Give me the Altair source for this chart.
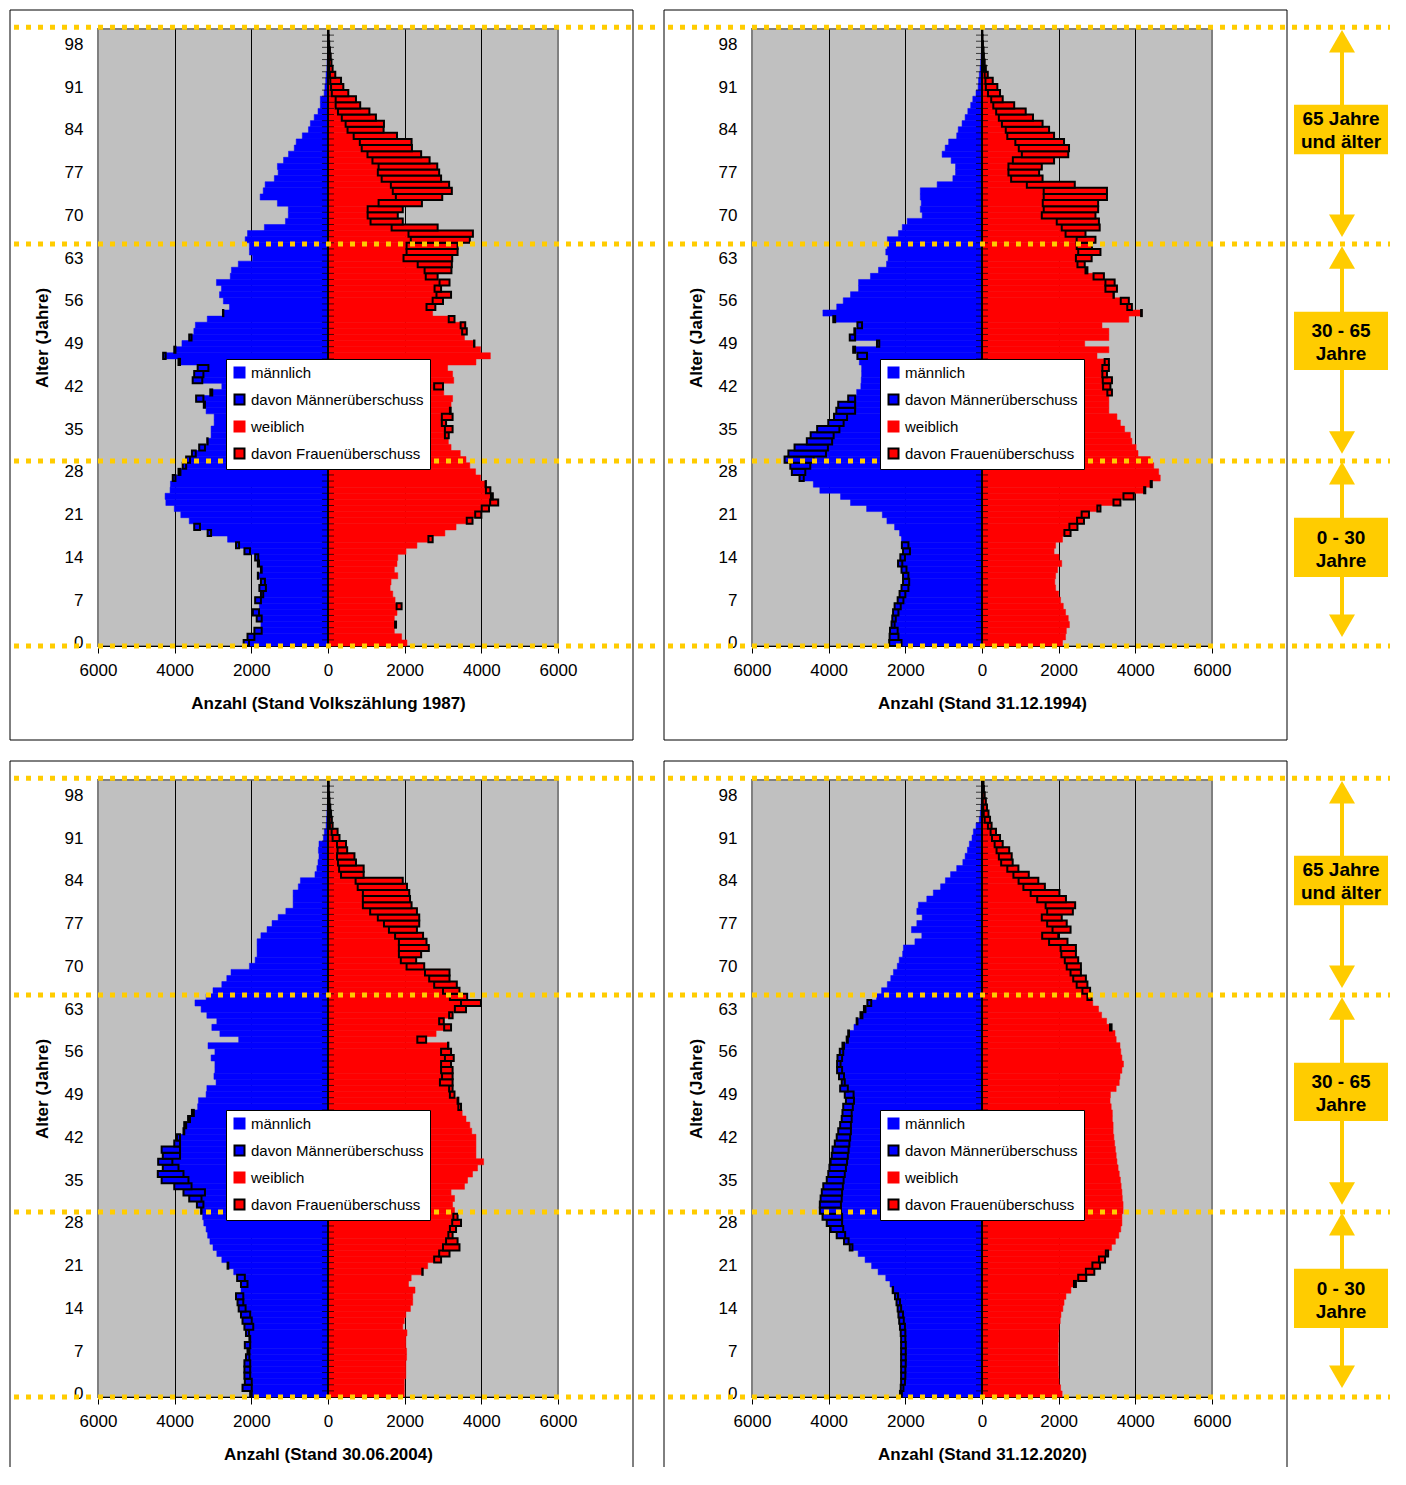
import altair as alt
import pandas as pd

AGES = list(range(101))

M_1987 = [2200, 2100, 1920, 1750, 1860, 1960, 1790, 1900, 1750, 1790,
          1750, 1830, 1750, 1830, 1900, 2180, 2400, 2620, 3140, 3490,
          3620, 3840, 4010, 4230, 4250, 4120, 4110, 4050, 3900, 3790,
          3700, 3550, 3360, 3150, 3050, 3050, 2970, 2970, 3180, 3240,
          3440, 3070, 2770, 3530, 3490, 3400, 3900, 4300, 4010, 3810,
          3620, 3500, 3460, 3150, 2740, 2570, 2730, 2830, 2780, 2910,
          2550, 2520, 2340, 1970, 2050, 2050, 2160, 2100, 1660, 1110,
          1035, 1035, 1320, 1770, 1690, 1640, 1400, 1300, 1320, 1160,
          1030, 880, 830, 670, 510, 460, 360, 260, 200, 200,
          100, 80, 60, 50, 30, 25, 15, 10, 8, 5,
          3]
F_1987 = [2060, 1920, 1730, 1775, 1730, 1800, 1920, 1750, 1690, 1620,
          1645, 1820, 1730, 1800, 1820, 2035, 2320, 2730, 3050, 3340,
          3770, 4000, 4200, 4440, 4300, 4235, 4120, 3980, 3850, 3700,
          3600, 3450, 3210, 3140, 3150, 3250, 3080, 3250, 3200, 3210,
          3250, 3020, 3000, 3280, 3250, 3120, 3860, 4235, 3980, 3820,
          3560, 3620, 3580, 3300, 2730, 2800, 3000, 3210, 2950, 3170,
          2860, 3220, 3230, 3240, 3380, 3380, 3700, 3780, 2860, 1950,
          1820, 1950, 2450, 2980, 3230, 3160, 2950, 2900, 2850, 2650,
          2430, 2190, 2180, 1800, 1450, 1460, 1250, 1080, 840, 730,
          530, 400, 340, 190, 120, 90, 70, 50, 30, 20,
          15]
M_1994 = [2420, 2410, 2400, 2360, 2340, 2320, 2280, 2200, 2150, 2100,
          2060, 2060, 2100, 2190, 2130, 2060, 2090, 2100, 2150, 2280,
          2480, 2600, 3010, 3430, 3690, 4230, 4400, 4760, 4960, 5000,
          5150, 5050, 4890, 4570, 4470, 4300, 4010, 3860, 3800, 3750,
          3490, 3270, 3160, 3150, 3140, 3140, 3200, 3250, 3360, 2740,
          3450, 3330, 3250, 3880, 4150, 3790, 3620, 3430, 3220, 3220,
          2910, 2700, 2490, 2450, 2510, 2470, 2470, 2180, 2080, 1950,
          1560, 1610, 1585, 1610, 1610, 1170, 760, 690, 690, 805,
          1040, 960, 870, 660, 620, 520, 440, 370, 295, 240,
          156, 100, 90, 70, 50, 35, 25, 15, 10, 5,
          3]
F_1994 = [2100, 2180, 2200, 2280, 2250, 2180, 2120, 2050, 2000, 1920,
          1900, 1920, 1970, 2080, 2010, 1880, 1920, 2100, 2310, 2490,
          2660, 2790, 3090, 3610, 3960, 4260, 4430, 4650, 4610, 4480,
          4390, 4070, 4020, 3910, 3870, 3720, 3610, 3520, 3310, 3310,
          3310, 3390, 3350, 3390, 3260, 3310, 3310, 3000, 3310, 2680,
          3310, 3310, 3130, 3830, 4170, 3910, 3830, 3440, 3520, 3460,
          3180, 2750, 2680, 2860, 3090, 2870, 2960, 2700, 3070, 3050,
          2960, 3030, 3030, 3260, 3260, 2420, 1580, 1490, 1560, 1880,
          2250, 2270, 2140, 1880, 1750, 1580, 1330, 1140, 840, 540,
          470, 400, 280, 150, 100, 70, 50, 40, 25, 15,
          10]
M_2004 = [2030, 2230, 2170, 2180, 2180, 2180, 2140, 2100, 2170, 2050,
          2140, 2180, 2230, 2270, 2330, 2360, 2400, 2270, 2270, 2370,
          2460, 2620, 2770, 2900, 3000, 3080, 3140, 3180, 3240, 3270,
          3310, 3420, 3620, 3770, 4010, 4340, 4440, 4310, 4430, 4310,
          4340, 4010, 3940, 3770, 3750, 3650, 3550, 3400, 3380, 3180,
          3160, 2920, 2975, 2950, 2950, 3050, 2950, 3130, 2330, 2820,
          3030, 2900, 3160, 3310, 3470, 3180, 3000, 2770, 2640, 2530,
          2050, 1900, 1850, 1850, 1850, 1750, 1590, 1460, 1300, 1100,
          910, 910, 910, 775, 720, 340, 290, 260, 235, 250,
          235, 120, 95, 50, 40, 30, 20, 12, 8, 5,
          3]
F_2004 = [1990, 1990, 1990, 2030, 2030, 2030, 2050, 2050, 2030, 2030,
          2060, 1950, 1990, 2030, 2150, 2210, 2210, 2270, 2100, 2170,
          2470, 2600, 2950, 3170, 3430, 3380, 3250, 3340, 3470, 3380,
          3300, 3250, 3300, 3210, 3560, 3640, 3770, 3900, 4060, 3860,
          3860, 3860, 3860, 3750, 3700, 3600, 3500, 3470, 3400, 3300,
          3250, 3250, 3250, 3250, 3210, 3280, 3210, 3140, 2560, 2820,
          3210, 3020, 3250, 3600, 3990, 3630, 3430, 3360, 3170, 3170,
          2510, 2300, 2430, 2630, 2570, 2480, 2320, 2380, 2380, 2320,
          2180, 2140, 2120, 2060, 1950, 930, 930, 730, 690, 500,
          470, 300, 250, 120, 100, 80, 60, 40, 30, 20,
          20]
M_2020 = [2140, 2120, 2110, 2110, 2110, 2110, 2110, 2110, 2110, 2110,
          2120, 2140, 2160, 2180, 2200, 2230, 2270, 2330, 2400, 2510,
          2710, 2880, 3050, 3230, 3450, 3600, 3790, 3950, 4050, 4160,
          4230, 4230, 4210, 4180, 4140, 4050, 4010, 3980, 3950, 3920,
          3900, 3840, 3790, 3750, 3700, 3660, 3640, 3620, 3550, 3580,
          3700, 3660, 3730, 3780, 3780, 3770, 3710, 3640, 3530, 3490,
          3340, 3270, 3170, 3080, 2990, 2750, 2620, 2470, 2380, 2310,
          2210, 2160, 2070, 2050, 1750, 1570, 1840, 1700, 1560, 1700,
          1660, 1440, 1270, 1080, 955, 820, 660, 500, 440, 380,
          330, 260, 225, 155, 70, 45, 30, 20, 12, 8,
          5]
F_2020 = [2090, 2050, 2010, 2000, 2000, 1990, 1990, 1990, 1990, 2000,
          2000, 2010, 2040, 2060, 2110, 2140, 2190, 2320, 2450, 2720,
          2930, 3080, 3210, 3290, 3380, 3480, 3570, 3620, 3650, 3650,
          3680, 3680, 3660, 3650, 3630, 3610, 3580, 3550, 3520, 3500,
          3480, 3460, 3440, 3420, 3420, 3400, 3400, 3370, 3340, 3350,
          3500, 3580, 3600, 3650, 3690, 3650, 3620, 3600, 3500, 3470,
          3380, 3250, 3120, 3040, 2890, 2860, 2820, 2750, 2710, 2580,
          2580, 2510, 2450, 2450, 2230, 1990, 2310, 2210, 2080, 2370,
          2430, 2190, 2020, 1640, 1470, 1220, 950, 800, 775, 710,
          540, 470, 365, 250, 210, 170, 130, 100, 70, 50,
          40]

TITLES = ["Anzahl (Stand Volkszählung 1987)", "Anzahl (Stand 31.12.1994)",
          "Anzahl (Stand 30.06.2004)", "Anzahl (Stand 31.12.2020)"]
X_TICKS = [-6000, -4000, -2000, 0, 2000, 4000, 6000]
Y_TICKS = list(range(0, 99, 7))
KATS = ["männlich", "davon Männerüberschuss", "weiblich", "davon Frauenüberschuss"]
FILLS = ["#0000FF", "#0000FF", "#FF0000", "#FF0000"]
STROKES = ["#0000FF", "#000000", "#FF0000", "#000000"]
BAND_LINES = [100.8, 65.3, 29.8, -0.5]
GROUP_LABELS = ["65 Jahre\nund älter", "30 - 65\nJahre", "0 - 30\nJahre"]
GROUP_BOX_TOP = [88.1, 54.2, 20.5]
GROUP_BOX_BOTTOM = [80.0, 44.7, 10.8]
GROUP_TEXT_MID = [85.8, 51.0, 17.2]
ARROW_UP = [98.5, 63.1, 27.8]
ARROW_DOWN = [68.3, 32.8, 2.8]

W, H = 460, 617
FONT = "Liberation Sans"
YEL = "#FFCC00"


def bar_table(m, f):
    rows = []
    for a, mv, fv in zip(AGES, m, f):
        rows.append({"kat": "männlich", "x0": 0, "x1": -mv, "y0": a - 0.5, "y1": a + 0.5, "sw": 0.5})
        rows.append({"kat": "weiblich", "x0": 0, "x1": fv, "y0": a - 0.5, "y1": a + 0.5, "sw": 0.5})
    for a, mv, fv in zip(AGES, m, f):
        if mv > fv:
            rows.append({"kat": "davon Männerüberschuss", "x0": -fv, "x1": -mv,
                         "y0": a - 0.5, "y1": a + 0.5, "sw": 2})
        elif fv > mv:
            rows.append({"kat": "davon Frauenüberschuss", "x0": mv, "x1": fv,
                         "y0": a - 0.5, "y1": a + 0.5, "sw": 2})
    return pd.DataFrame(rows)


def legend():
    return alt.Legend(orient="none", legendX=128, legendY=330, title=None, direction="vertical",
                      labelFontSize=15, labelFont=FONT, labelColor="black", symbolType="square",
                      symbolSize=100, symbolStrokeWidth=2, rowPadding=8, padding=6,
                      fillColor="white", strokeColor="black", labelOffset=4, labelLimit=400)


def edge(one, **enc):
    return alt.Chart(one).mark_rule(color="black", strokeWidth=1).encode(**enc)


def panel(m, f, title, right, bottom):
    xs = alt.Scale(domain=[-6000, 6000], nice=False, zero=False)
    ys = alt.Scale(domain=[-0.5, 100.5], nice=False, zero=False)
    one = pd.DataFrame({"k": [0]})

    bars = alt.Chart(bar_table(m, f)).mark_bar().encode(
        x=alt.X("x0:Q", scale=xs,
                axis=alt.Axis(values=X_TICKS, labelExpr="format(abs(datum.value), 'd')", title=title,
                              grid=True, gridColor="black", gridWidth=1,
                              gridOpacity=alt.condition("abs(datum.value) == 6000", alt.value(0), alt.value(1)),
                              tickSize=7, tickColor="black", domainColor="black",
                              labelPadding=9, titlePadding=17, labelFlush=False, labelFontSize=17,
                              titleFontSize=17, titleFontWeight="bold")),
        x2="x1:Q",
        y=alt.Y("y0:Q", scale=ys,
                axis=alt.Axis(values=Y_TICKS, title="Alter (Jahre)", grid=False, ticks=False, tickSize=0,
                              domain=False, labelPadding=15, titlePadding=13, labelFlush=False,
                              labelFontSize=17, titleFontSize=17, titleFontWeight="bold")),
        y2="y1:Q",
        fill=alt.Fill("kat:N", scale=alt.Scale(domain=KATS, range=FILLS), legend=legend()),
        stroke=alt.Stroke("kat:N", scale=alt.Scale(domain=KATS, range=STROKES), legend=legend()),
        strokeWidth=alt.StrokeWidth("sw:Q", scale=None, legend=None),
    )

    center = alt.Chart(one).mark_rule(color="black", strokeWidth=2).encode(
        x=alt.datum(0), y=alt.value(0), y2=alt.value(H))

    ticks = alt.Chart(pd.DataFrame({"b": [a + 0.5 for a in AGES[:-1]]})).mark_tick(
        orient="horizontal", size=12, thickness=1, color="black").encode(
        x=alt.datum(0), y=alt.Y("b:Q", scale=ys))

    ext = W + 178 if right else W + 100
    yellow = alt.Chart(pd.DataFrame({"yl": BAND_LINES})).mark_rule(
        color=YEL, strokeWidth=5, strokeDash=[5, 7]).encode(
        y=alt.Y("yl:Q", scale=ys), x=alt.value(-84), x2=alt.value(ext))

    layers = [bars, center, ticks, yellow]

    fl, fr, ft = -88, W + 75, -19
    fb = H + 70 if bottom else H + 94
    layers.append(edge(one, x=alt.value(fl), y=alt.value(ft), y2=alt.value(fb)))
    layers.append(edge(one, x=alt.value(fr), y=alt.value(ft), y2=alt.value(fb)))
    layers.append(edge(one, x=alt.value(fl), x2=alt.value(fr), y=alt.value(ft)))
    if not bottom:
        layers.append(edge(one, x=alt.value(fl), x2=alt.value(fr), y=alt.value(fb)))

    if right:
        ann = pd.DataFrame({"lbl": GROUP_LABELS, "bt": GROUP_BOX_TOP, "bb": GROUP_BOX_BOTTOM,
                            "tm": GROUP_TEXT_MID, "up": ARROW_UP, "dn": ARROW_DOWN})
        base = alt.Chart(ann)
        layers.append(base.mark_rule(color=YEL, strokeWidth=4).encode(
            x=alt.value(590), y=alt.Y("up:Q", scale=ys), y2="dn:Q"))
        layers.append(base.mark_point(shape="triangle-up", size=676, filled=True, color=YEL, opacity=1).encode(
            x=alt.value(590), y=alt.Y("up:Q", scale=ys)))
        layers.append(base.mark_point(shape="triangle-down", size=676, filled=True, color=YEL, opacity=1).encode(
            x=alt.value(590), y=alt.Y("dn:Q", scale=ys)))
        layers.append(base.mark_rect(color=YEL).encode(
            x=alt.value(542), x2=alt.value(636), y=alt.Y("bt:Q", scale=ys), y2="bb:Q"))
        layers.append(base.mark_text(font=FONT, fontSize=19, fontWeight="bold", color="black",
                                     lineBreak="\n", lineHeight=23, align="center", baseline="middle").encode(
            x=alt.value(589), y=alt.Y("tm:Q", scale=ys), text="lbl:N"))

    return alt.layer(*layers).properties(width=W, height=H)


p1 = panel(M_1987, F_1987, TITLES[0], False, False)
p2 = panel(M_1994, F_1994, TITLES[1], True, False)
p3 = panel(M_2004, F_2004, TITLES[2], False, True)
p4 = panel(M_2020, F_2020, TITLES[3], True, True)

top = alt.hconcat(p1, p2, spacing=0).resolve_scale(fill="independent", stroke="independent")
bot = alt.hconcat(p3, p4, spacing=0).resolve_scale(fill="independent", stroke="independent")

chart = alt.vconcat(top, bot, spacing=17).resolve_scale(
    fill="independent", stroke="independent"
).properties(padding=0, background="white").configure_view(
    fill="#C0C0C0", stroke="#808080", strokeWidth=2
).configure_axis(
    labelFont=FONT, titleFont=FONT, labelColor="black", titleColor="black"
)

chart.save("out.html", embed_options={"renderer": "svg", "actions": False})
